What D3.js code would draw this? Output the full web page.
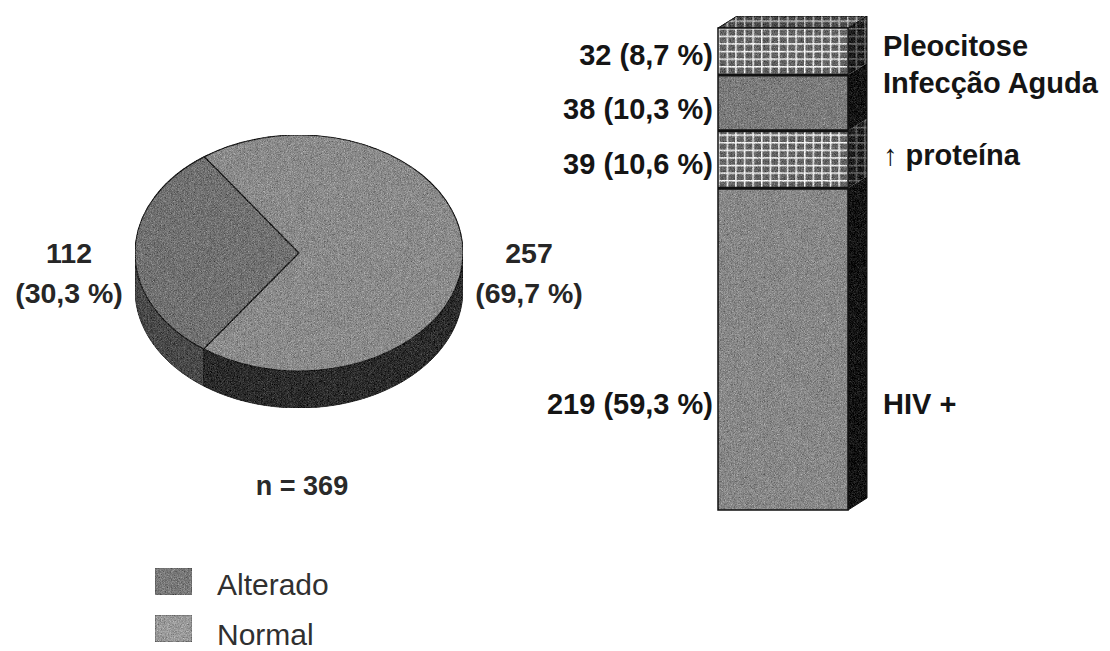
<!DOCTYPE html>
<html>
<head>
<meta charset="utf-8">
<script src="https://cdn.jsdelivr.net/npm/d3@7"></script>
<style>
  html, body { margin: 0; padding: 0; background: #fff; }
  svg { display: block; }
  text { font-family: "Liberation Sans", Arial, sans-serif; }
</style>
</head>
<body>
<svg id="chart" width="1110" height="651"></svg>
<script>
// ---- data ----
const pieCategories = ["Alterado", "Normal"];
const pieValues = [112, 257];
const piePercents = ["30,3 %", "69,7 %"];
const totalN = 369;

const barCategories = ["HIV +", "\u2191 proteína", "Infecção Aguda", "Pleocitose"];
const barValues = [219, 39, 38, 32];
const barPercents = ["59,3 %", "10,6 %", "10,3 %", "8,7 %"];
const barHatched = [false, true, false, true];

// ---- drawing ----
const svg = d3.select("#chart");
const defs = svg.append("defs");

// film grain used on the shaded surfaces
const grain = defs.append("filter").attr("id", "grain")
  .attr("x", 0).attr("y", 0).attr("width", 1).attr("height", 1)
  .attr("color-interpolation-filters", "sRGB");
grain.append("feTurbulence").attr("type", "fractalNoise")
  .attr("baseFrequency", 1.3).attr("numOctaves", 1).attr("seed", 3).attr("result", "noise");
grain.append("feColorMatrix").attr("in", "noise").attr("type", "matrix")
  .attr("values", "0.33 0.33 0.33 0 0  0.33 0.33 0.33 0 0  0.33 0.33 0.33 0 0  0 0 0 0 1")
  .attr("result", "gray");
grain.append("feComposite").attr("in", "SourceGraphic").attr("in2", "gray")
  .attr("operator", "arithmetic").attr("k1", 0).attr("k2", 1).attr("k3", 0.9).attr("k4", -0.45)
  .attr("result", "mix");
grain.append("feComposite").attr("in", "mix").attr("in2", "SourceGraphic").attr("operator", "in");

// cross-hatch fill for two of the bar segments
function hatch(id, cell, line) {
  const p = defs.append("pattern").attr("id", id)
    .attr("patternUnits", "userSpaceOnUse")
    .attr("x", 718).attr("y", 28)
    .attr("width", 8.6).attr("height", 7.6);
  p.append("rect").attr("width", 8.6).attr("height", 7.6).attr("fill", cell);
  p.append("rect").attr("width", 8.6).attr("height", 1.5).attr("fill", line);
  p.append("rect").attr("width", 1.5).attr("height", 7.6).attr("fill", line);
}
hatch("hatchFront", "#626262", "#f4f4f4");
hatch("hatchTop", "#4a4a4a", "#bdbdbd");
hatch("hatchSide", "#1c1c1c", "#6a6a6a");

// ---------- 3D pie ----------
const cx = 299, cy = 253, rx = 164, ry = 118, depth = 37;
const R = 100;
const deg = Math.PI / 180;
const start = 215.5 * deg;

const pie = d3.pie().sort(null).startAngle(start).endAngle(start + 2 * Math.PI);
const slices = pie(pieValues);

const topColors = { "Alterado": "#727272", "Normal": "#8b8b8b" };
const sideColors = { "Alterado": "#4a4a4a", "Normal": "#2c2c2c" };

const pt = (a, dy) => [cx + rx * Math.sin(a), cy - ry * Math.cos(a) + (dy || 0)];
const line = d3.line();

const pieG = svg.append("g").attr("filter", "url(#grain)");

// side wall: only the front half of the rim is visible
const lower = [[Math.PI / 2, 1.5 * Math.PI], [2.5 * Math.PI, 3.5 * Math.PI]];
slices.forEach((s, i) => {
  lower.forEach(([lo, hi]) => {
    const a0 = Math.max(s.startAngle, lo), a1 = Math.min(s.endAngle, hi);
    if (a1 <= a0) return;
    const n = 80;
    const ang = d3.range(n + 1).map(k => a0 + (a1 - a0) * k / n);
    const pts = ang.map(a => pt(a)).concat(ang.slice().reverse().map(a => pt(a, depth)));
    pieG.append("path")
      .attr("d", line(pts) + "Z")
      .attr("fill", sideColors[pieCategories[i]])
      .attr("stroke", "#1a1a1a").attr("stroke-width", 0.8);
  });
});

// top face: unit arcs stretched into an ellipse
const arc = d3.arc().innerRadius(0).outerRadius(R);
const topG = pieG.append("g")
  .attr("transform", `translate(${cx},${cy}) scale(${rx / R},${ry / R})`);
topG.selectAll("path").data(slices).join("path")
  .attr("d", arc)
  .attr("fill", (d, i) => topColors[pieCategories[i]])
  .attr("stroke", "#1e1e1e").attr("stroke-width", 1.2)
  .attr("vector-effect", "non-scaling-stroke");

// value labels beside the pie
const pieLabelX = [cx - rx - 66, cx + rx + 66];
slices.forEach((s, i) => {
  const t = svg.append("text")
    .attr("x", pieLabelX[i]).attr("text-anchor", "middle")
    .attr("font-size", 28.5).attr("font-weight", "bold").attr("fill", "#262626");
  t.append("tspan").attr("x", pieLabelX[i]).attr("y", cy + 10).text(pieValues[i]);
  t.append("tspan").attr("x", pieLabelX[i]).attr("y", cy + 50).text(`(${piePercents[i]})`);
});

svg.append("text")
  .attr("x", cx + 3).attr("y", 495).attr("text-anchor", "middle")
  .attr("font-size", 27).attr("font-weight", "bold").attr("fill", "#2a2a2a")
  .text(`n = ${totalN}`);

// legend
const legend = svg.append("g");
pieCategories.forEach((c, i) => {
  const y0 = 568 + i * 47;
  legend.append("rect")
    .attr("x", 155).attr("y", y0).attr("width", 37).attr("height", 27)
    .attr("fill", i === 0 ? "#7a7a7a" : "#9a9a9a")
    .attr("stroke", "#555").attr("stroke-width", 0.8)
    .attr("filter", "url(#grain)");
  legend.append("text")
    .attr("x", 217).attr("y", y0 + 27 + (i === 1 ? 3 : 0))
    .attr("font-size", 30).attr("fill", "#303030")
    .text(c);
});

// ---------- 3D stacked bar ----------
const total = d3.sum(barValues);
const y = d3.scaleLinear().domain([0, total]).range([510, 28]);
const x = d3.scaleBand().domain(["LCR"]).range([718, 848]).padding(0);
const bx = x("LCR"), bw = x.bandwidth();
const dx = 19, dy = -12;

const stacked = [];
barValues.reduce((acc, v, i) => {
  stacked.push({ cat: barCategories[i], value: v, pct: barPercents[i], hatched: barHatched[i], y0: acc, y1: acc + v });
  return acc + v;
}, 0);

const barG = svg.append("g").attr("filter", "url(#grain)");

// side faces
barG.selectAll("path.side").data(stacked).join("path")
  .attr("class", "side")
  .attr("d", d => line([
    [bx + bw, y(d.y0)], [bx + bw + dx, y(d.y0) + dy],
    [bx + bw + dx, y(d.y1) + dy], [bx + bw, y(d.y1)]
  ]) + "Z")
  .attr("fill", d => d.hatched ? "url(#hatchSide)" : "#141414");

// top face
barG.append("path")
  .attr("d", line([
    [bx, y(total)], [bx + dx, y(total) + dy],
    [bx + bw + dx, y(total) + dy], [bx + bw, y(total)]
  ]) + "Z")
  .attr("fill", "url(#hatchTop)")
  .attr("stroke", "#111").attr("stroke-width", 1);

// front faces
barG.selectAll("rect.front").data(stacked).join("rect")
  .attr("class", "front")
  .attr("x", bx).attr("width", bw)
  .attr("y", d => y(d.y1)).attr("height", d => y(d.y0) - y(d.y1))
  .attr("fill", d => d.hatched ? "url(#hatchFront)" : (d.cat === "HIV +" ? "#888888" : "#7c7c7c"));

// segment separators and outline
svg.selectAll("line.sep").data(stacked.slice(1)).join("line")
  .attr("class", "sep")
  .attr("x1", bx).attr("x2", bx + bw)
  .attr("y1", d => y(d.y0)).attr("y2", d => y(d.y0))
  .attr("stroke", "#111").attr("stroke-width", 3);
svg.append("rect")
  .attr("x", bx).attr("y", y(total)).attr("width", bw).attr("height", y(0) - y(total))
  .attr("fill", "none").attr("stroke", "#111").attr("stroke-width", 1.5);
svg.append("path")
  .attr("d", line([[bx + bw, y(0)], [bx + bw + dx, y(0) + dy], [bx + bw + dx, y(total) + dy]]))
  .attr("fill", "none").attr("stroke", "#111").attr("stroke-width", 1);

// segment labels: value on the left, category on the right
const leftAnchor = [0.33, 0.42, 0.40, 0.43];
const rightAnchor = [0.33, 0.58, 0.86, 0.62];
const segY = (d, f) => y(d.y0 + f * d.value);

svg.selectAll("text.val").data(stacked).join("text")
  .attr("class", "val")
  .attr("x", bx - 5)
  .attr("y", (d, i) => segY(d, leftAnchor[i]) + 10)
  .attr("text-anchor", "end")
  .attr("font-size", 29).attr("font-weight", "bold").attr("fill", "#151515")
  .text(d => `${d.value} (${d.pct})`);

svg.selectAll("text.cat").data(stacked).join("text")
  .attr("class", "cat")
  .attr("x", bx + bw + dx + 16)
  .attr("y", (d, i) => segY(d, rightAnchor[i]) + 10)
  .attr("font-size", 29).attr("font-weight", "bold").attr("fill", "#151515")
  .text(d => d.cat);
</script>
</body>
</html>
